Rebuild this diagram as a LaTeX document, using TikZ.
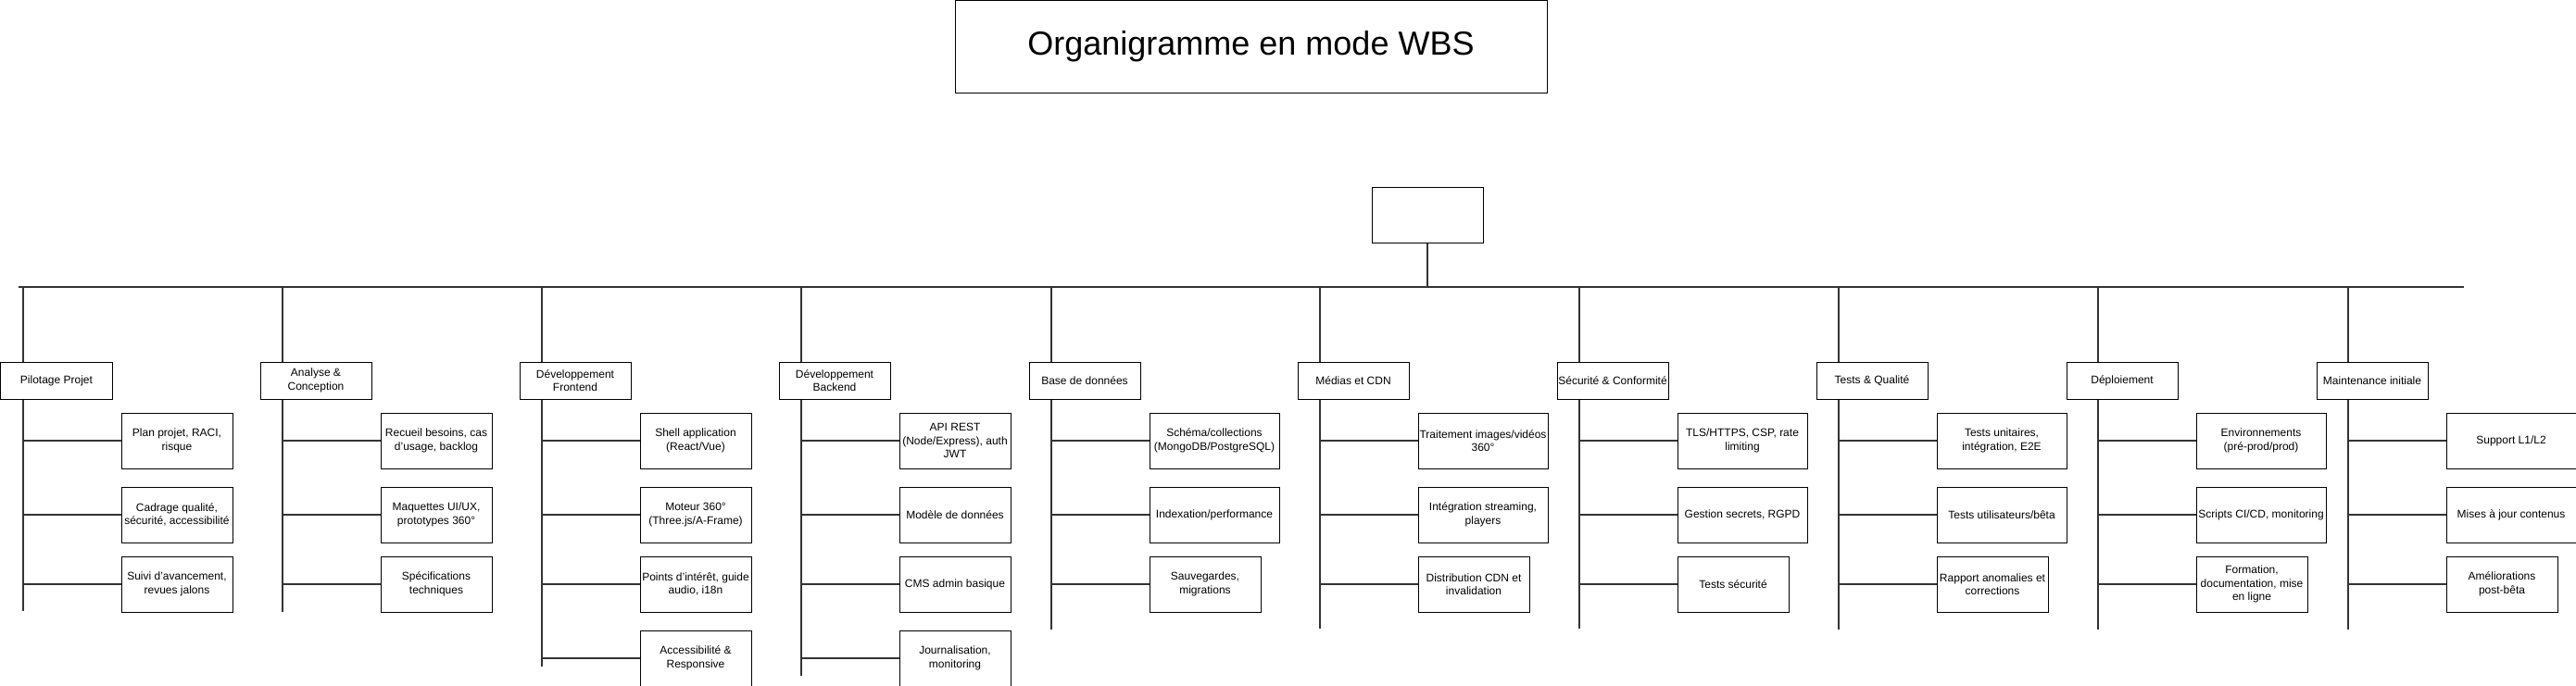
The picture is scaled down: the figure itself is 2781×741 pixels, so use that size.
\documentclass[tikz,border=0pt]{standalone}
\usepackage{fontspec}
\setmainfont{Liberation Sans}
\definecolor{wbsgray}{HTML}{333333}

\begin{document}
\begin{tikzpicture}[x=1bp,y=-1bp,
    wbsbox/.style={draw=black,line width=1bp,fill=white,inner sep=0pt,align=center,anchor=north west,
      minimum width=120bp,minimum height=40bp,font=\fontsize{12bp}{14.5bp}\selectfont},
    sub/.style={wbsbox,minimum height=60bp},
    wide/.style={sub,minimum width=140bp},
    link/.style={draw=wbsgray,line width=2bp}]
    \useasboundingbox (0,0) rectangle (2781,741);

    \node[wbsbox,minimum width=639bp,minimum height=99bp,font=\fontsize{36bp}{43bp}\selectfont] (title) at (1030.5,0.5) {Organigramme en mode WBS};
    \node[sub] (root) at (1480.5,201.5) {};
    \coordinate (barL) at (20,310);
    \coordinate (barR) at (2660,310);
    \draw[link] (barL) -- (barR);
    \draw[link] (root) -- (root |- barL);

    \coordinate (pilT) at (25,310);   \coordinate (pilB) at (25,660);
    \coordinate (anaT) at (305,310);  \coordinate (anaB) at (305,661);
    \coordinate (froT) at (585,310);  \coordinate (froB) at (585,720);
    \coordinate (bacT) at (865,310);  \coordinate (bacB) at (865,730);
    \coordinate (bddT) at (1135,310); \coordinate (bddB) at (1135,680);
    \coordinate (medT) at (1425,310); \coordinate (medB) at (1425,679);
    \coordinate (secT) at (1705,310); \coordinate (secB) at (1705,679);
    \coordinate (tstT) at (1985,310); \coordinate (tstB) at (1985,680);
    \coordinate (depT) at (2265,310); \coordinate (depB) at (2265,680);
    \coordinate (maiT) at (2535,310); \coordinate (maiB) at (2535,680);

    \node[wbsbox] (pil) at (0.5,390.5) {Pilotage Projet};
    \node[sub] (pil1) at (130.5,445.5) {Plan projet, RACI,\\risque};
    \node[sub] (pil2) at (130.5,525.5) {Cadrage qualité,\\sécurité, accessibilité};
    \node[sub] (pil3) at (130.5,600.5) {Suivi d’avancement,\\revues jalons};

    \node[wbsbox] (ana) at (280.5,390.5) {Analyse \&\\Conception};
    \node[sub] (ana1) at (410.5,445.5) {Recueil besoins, cas\\d’usage, backlog};
    \node[sub] (ana2) at (410.5,525.5) {Maquettes UI/UX,\\prototypes 360°};
    \node[sub] (ana3) at (410.5,600.5) {Spécifications\\techniques};

    \node[wbsbox] (fro) at (560.5,390.5) {Développement\\Frontend};
    \node[sub] (fro1) at (690.5,445.5) {Shell application\\(React/Vue)};
    \node[sub] (fro2) at (690.5,525.5) {Moteur 360°\\(Three.js/A-Frame)};
    \node[sub] (fro3) at (690.5,600.5) {Points d’intérêt, guide\\audio, i18n};
    \node[sub] (fro4) at (690.5,680.5) {Accessibilité \&\\Responsive};

    \node[wbsbox] (bac) at (840.5,390.5) {Développement\\Backend};
    \node[sub] (bac1) at (970.5,445.5) {API REST\\(Node/Express), auth\\JWT};
    \node[sub] (bac2) at (970.5,525.5) {Modèle de données};
    \node[sub] (bac3) at (970.5,600.5) {CMS admin basique};
    \node[sub] (bac4) at (970.5,680.5) {Journalisation,\\monitoring};

    \node[wbsbox] (bdd) at (1110.5,390.5) {Base de données};
    \node[wide] (bdd1) at (1240.5,445.5) {Schéma/collections\\(MongoDB/PostgreSQL)};
    \node[wide] (bdd2) at (1240.5,525.5) {Indexation/performance};
    \node[sub] (bdd3) at (1240.5,600.5) {Sauvegardes,\\migrations};

    \node[wbsbox] (med) at (1400.5,390.5) {Médias et CDN};
    \node[wide] (med1) at (1530.5,445.5) {Traitement images/vidéos\\360°};
    \node[wide] (med2) at (1530.5,525.5) {Intégration streaming,\\players};
    \node[sub] (med3) at (1530.5,600.5) {Distribution CDN et\\invalidation};

    \node[wbsbox] (sec) at (1680.5,390.5) {Sécurité \& Conformité};
    \node[wide] (sec1) at (1810.5,445.5) {TLS/HTTPS, CSP, rate\\limiting};
    \node[wide] (sec2) at (1810.5,525.5) {Gestion secrets, RGPD};
    \node[sub] (sec3) at (1810.5,600.5) {Tests sécurité};

    \node[wbsbox] (tst) at (1960.5,390.5) {Tests \& Qualité};
    \node[wide] (tst1) at (2090.5,445.5) {Tests unitaires,\\intégration, E2E};
    \node[wide] (tst2) at (2090.5,525.5) {Tests utilisateurs/bêta};
    \node[sub] (tst3) at (2090.5,600.5) {Rapport anomalies et\\corrections};

    \node[wbsbox] (dep) at (2230.5,390.5) {Déploiement};
    \node[wide] (dep1) at (2370.5,445.5) {Environnements\\(pré-prod/prod)};
    \node[wide] (dep2) at (2370.5,525.5) {Scripts CI/CD, monitoring};
    \node[sub] (dep3) at (2370.5,600.5) {Formation,\\documentation, mise\\en ligne};

    \node[wbsbox] (mai) at (2500.5,390.5) {Maintenance initiale};
    \node[wide] (mai1) at (2640.5,445.5) {Support L1/L2};
    \node[wide] (mai2) at (2640.5,525.5) {Mises à jour contenus};
    \node[sub] (mai3) at (2640.5,600.5) {Améliorations\\post-bêta};

    \draw[link] (pilT) -- (pil.north -| pilT) (pil.south -| pilT) -- (pilB)
      (pil1.west -| pilT) -- (pil1.west) (pil2.west -| pilT) -- (pil2.west) (pil3.west -| pilT) -- (pil3.west);
    \draw[link] (anaT) -- (ana.north -| anaT) (ana.south -| anaT) -- (anaB)
      (ana1.west -| anaT) -- (ana1.west) (ana2.west -| anaT) -- (ana2.west) (ana3.west -| anaT) -- (ana3.west);
    \draw[link] (froT) -- (fro.north -| froT) (fro.south -| froT) -- (froB)
      (fro1.west -| froT) -- (fro1.west) (fro2.west -| froT) -- (fro2.west) (fro3.west -| froT) -- (fro3.west)
      (fro4.west -| froT) -- (fro4.west);
    \draw[link] (bacT) -- (bac.north -| bacT) (bac.south -| bacT) -- (bacB)
      (bac1.west -| bacT) -- (bac1.west) (bac2.west -| bacT) -- (bac2.west) (bac3.west -| bacT) -- (bac3.west)
      (bac4.west -| bacT) -- (bac4.west);
    \draw[link] (bddT) -- (bdd.north -| bddT) (bdd.south -| bddT) -- (bddB)
      (bdd1.west -| bddT) -- (bdd1.west) (bdd2.west -| bddT) -- (bdd2.west) (bdd3.west -| bddT) -- (bdd3.west);
    \draw[link] (medT) -- (med.north -| medT) (med.south -| medT) -- (medB)
      (med1.west -| medT) -- (med1.west) (med2.west -| medT) -- (med2.west) (med3.west -| medT) -- (med3.west);
    \draw[link] (secT) -- (sec.north -| secT) (sec.south -| secT) -- (secB)
      (sec1.west -| secT) -- (sec1.west) (sec2.west -| secT) -- (sec2.west) (sec3.west -| secT) -- (sec3.west);
    \draw[link] (tstT) -- (tst.north -| tstT) (tst.south -| tstT) -- (tstB)
      (tst1.west -| tstT) -- (tst1.west) (tst2.west -| tstT) -- (tst2.west) (tst3.west -| tstT) -- (tst3.west);
    \draw[link] (depT) -- (dep.north -| depT) (dep.south -| depT) -- (depB)
      (dep1.west -| depT) -- (dep1.west) (dep2.west -| depT) -- (dep2.west) (dep3.west -| depT) -- (dep3.west);
    \draw[link] (maiT) -- (mai.north -| maiT) (mai.south -| maiT) -- (maiB)
      (mai1.west -| maiT) -- (mai1.west) (mai2.west -| maiT) -- (mai2.west) (mai3.west -| maiT) -- (mai3.west);
\end{tikzpicture}
\end{document}
